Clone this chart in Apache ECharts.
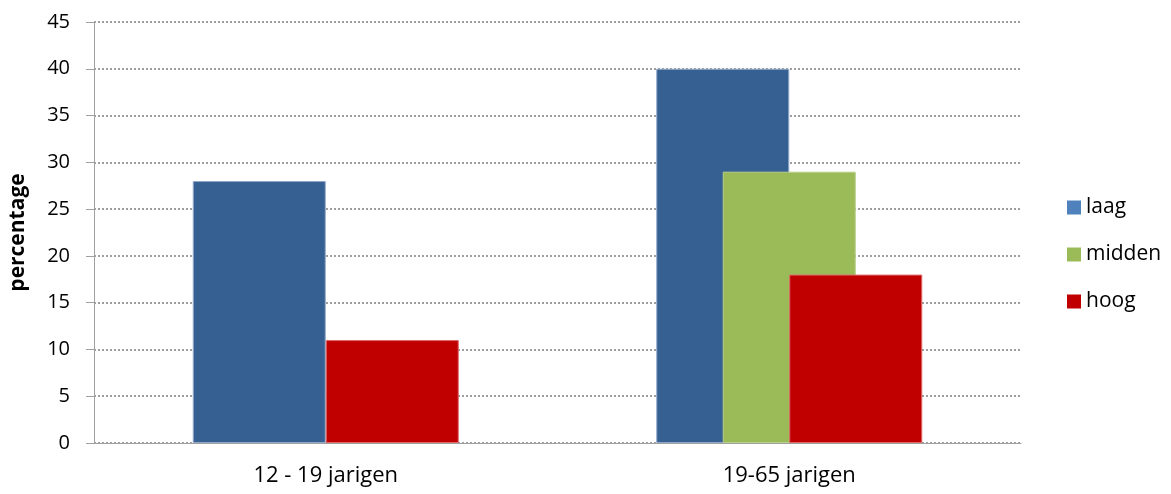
<!DOCTYPE html>
<html>
<head>
<meta charset="utf-8">
<script src="https://cdn.jsdelivr.net/npm/echarts@6/dist/echarts.min.js"></script>
<style>
  html, body { margin: 0; padding: 0; background: #fff; }
  #chart { width: 1171px; height: 494px; }
</style>
</head>
<body>
<div id="chart"></div>
<script>
  const categories = ['12 - 19 jarigen', '19-65 jarigen'];
  const laag = [28, 40];
  const midden = [null, 29];
  const hoog = [11, 18];
  const yTicks = [0, 45, 5]; // min, max, interval

  const fontFamily = '"Open Sans", Lato, sans-serif';
  const chart = echarts.init(document.getElementById('chart'));

  const barSeries = (name, data, color, border) => ({
    name,
    type: 'bar',
    data,
    barWidth: 133,
    barGap: '-50%',
    itemStyle: { color, borderColor: border, borderWidth: 1 },
    animation: false
  });

  const option = {
    animation: false,
    grid: { left: 92, right: 150, top: 22, bottom: 51 },
    legend: {
      orient: 'vertical',
      left: 1062,
      top: 191,
      itemWidth: 14,
      itemHeight: 14,
      itemGap: 24,
      icon: 'rect',
      textStyle: { fontFamily, fontSize: 21, color: '#000', lineHeight: 23 },
      data: [
        { name: 'laag', itemStyle: { color: '#4f81bd', borderWidth: 0 } },
        { name: 'midden', itemStyle: { color: '#9bbb59', borderWidth: 0 } },
        { name: 'hoog', itemStyle: { color: '#c00000', borderWidth: 0 } }
      ]
    },
    xAxis: {
      type: 'category',
      data: categories,
      axisLine: { lineStyle: { color: '#a0a0a0', width: 1 } },
      axisTick: { show: false },
      axisLabel: { fontFamily, fontSize: 22, color: '#000', margin: 22 }
    },
    yAxis: {
      type: 'value',
      min: yTicks[0],
      max: yTicks[1],
      interval: yTicks[2],
      name: 'percentage',
      nameLocation: 'middle',
      nameGap: 65,
      nameTextStyle: { fontFamily, fontSize: 21, fontWeight: 'bold', color: '#000' },
      axisLine: { show: true, lineStyle: { color: '#a0a0a0', width: 1 } },
      axisTick: { show: true, length: 8, lineStyle: { color: '#a0a0a0' } },
      axisLabel: { fontFamily, fontSize: 20, color: '#000', margin: 24 },
      splitLine: { lineStyle: { color: '#7f7f7f', type: [2, 2], width: 1.5 } }
    },
    series: [
      barSeries('laag', laag, '#376092', '#8fa8c8'),
      barSeries('midden', midden, '#9bbb59', '#b8d08a'),
      barSeries('hoog', hoog, '#c00000', '#e06666')
    ]
  };

  chart.setOption(option);
</script>
</body>
</html>
